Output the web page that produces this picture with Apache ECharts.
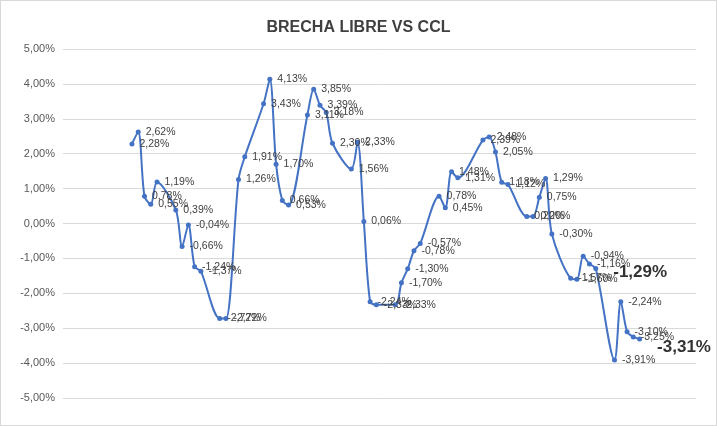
<!DOCTYPE html>
<html><head><meta charset="utf-8">
<script src="https://cdn.jsdelivr.net/npm/echarts@6/dist/echarts.min.js"></script>
<style>html,body{margin:0;padding:0;background:#fff}#c{width:717px;height:426px;box-sizing:border-box;border:1px solid #d9d9d9}</style>
</head><body><div id="c"></div>
<script>
const dayIndex = [0,1,2,3,4,7,8,9,10,11,14,15,17,18,21,22,23,24,25,28,29,30,31,32,35,36,37,38,39,42,43,44,45,46,49,50,51,52,56,57,58,59,60,63,64,65,66,67,70,71,72,73,74,77,78,79,80,81];
const values = [2.28,2.62,0.78,0.55,1.19,0.39,-0.66,-0.04,-1.24,-1.37,-2.72,-2.72,1.26,1.91,3.43,4.13,1.70,0.66,0.53,3.11,3.85,3.39,3.18,2.30,1.56,2.33,0.06,-2.24,-2.33,-2.33,-1.70,-1.30,-0.78,-0.57,0.78,0.45,1.48,1.31,2.39,2.48,2.05,1.18,1.12,0.20,0.20,0.75,1.29,-0.30,-1.57,-1.60,-0.94,-1.16,-1.29,-3.91,-2.24,-3.10,-3.25,-3.31];
const yTicks = [-5,-4,-3,-2,-1,0,1,2,3,4,5];
const fmt = v => v.toFixed(2).replace('.', ',') + '%';
const big = {52:true, 57:true};
const data = values.map((v,i)=>{
  const o = {value:[dayIndex[i], v]};
  if (big[i]) o.label = {fontSize:17, fontWeight:'bold', color:'#333', offset:[10, i===57?8:4]};
  return o;
});
const chart = echarts.init(document.getElementById('c'));
chart.setOption({
  animation:false,
  title:{text:'BRECHA LIBRE VS CCL', left:'center', top:14, textStyle:{fontSize:16, fontWeight:'bold', color:'#404040', fontFamily:'Liberation Sans'}},
  grid:{left:62, right:20, top:48, bottom:27},
  xAxis:{type:'value', min:-11, max:90, show:true, axisLine:{show:false}, axisTick:{show:false}, axisLabel:{show:false}, splitLine:{show:false}},
  yAxis:{type:'value', min:-5, max:5, interval:1, axisLine:{show:false}, axisTick:{show:false},
    axisLabel:{formatter:v=>fmt(v), color:'#595959', fontSize:11, fontFamily:'Liberation Sans'},
    splitLine:{lineStyle:{color:'#d9d9d9'}}},
  series:[{type:'line', smooth:0.3, data:data, symbol:'circle', symbolSize:5,
    lineStyle:{color:'#4472C4', width:2}, itemStyle:{color:'#4472C4'},
    label:{show:true, position:'right', formatter:p=>fmt(p.value[1]), fontSize:10.5, color:'#404040', fontFamily:'Liberation Sans'}}]
});
</script></body></html>
